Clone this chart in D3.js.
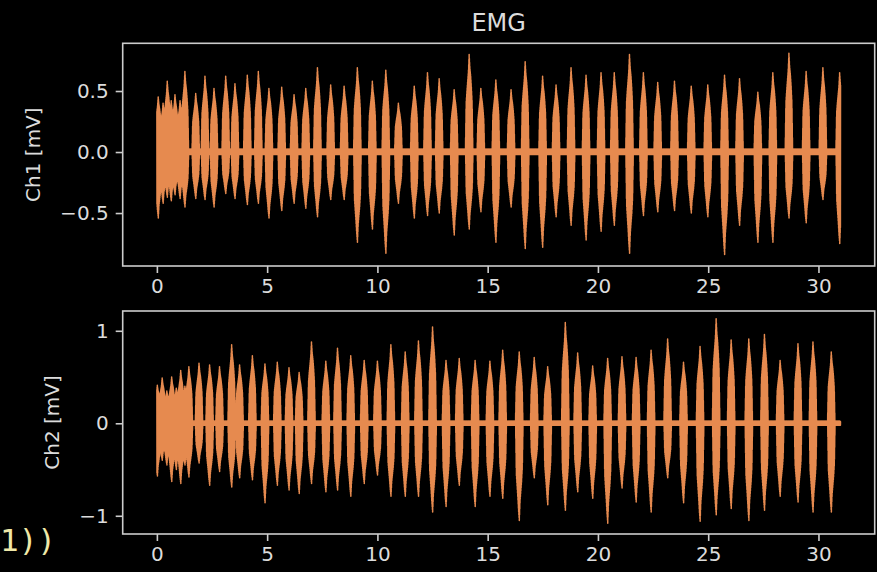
<!DOCTYPE html>
<html><head><meta charset="utf-8">
<script src="https://cdn.jsdelivr.net/npm/d3@7"></script>
<style>html,body{margin:0;padding:0;background:#000;overflow:hidden}svg{display:block}</style>
</head><body><svg id="c" width="877" height="572"></svg>
<script>
// ---------- data ----------
const title = "EMG";
const xTicks = [0, 5, 10, 15, 20, 25, 30];
const ch1Ticks = [-0.5, 0, 0.5];
const ch1TickLabels = ["\u22120.5", "0.0", "0.5"];
const ch2Ticks = [-1, 0, 1];
const ch2TickLabels = ["\u22121", "0", "1"];
const ch1Label = "Ch1 [mV]";
const ch2Label = "Ch2 [mV]";
const xLimits = [-1.55, 32.55];
const ch1Limits = [-0.934, 0.891];
const ch2Limits = [-1.197, 1.214];
const timeSpan = [0, 31.0];
const baselineNoise = 0.02; // mV, half-thickness of the resting band

// Ch1 bursts: centre time [s], positive peak [mV], negative peak [mV]
const ch1BurstTimes = [0.06,0.28,0.47,0.65,0.82,1.05,1.27,1.76,2.18,2.59,3.12,3.54,4.10,4.60,5.08,5.66,6.22,6.75,7.28,7.88,8.49,9.09,9.77,10.38,10.95,11.67,12.27,12.80,13.48,14.16,14.69,15.37,16.06,16.70,17.49,18.10,18.78,19.46,20.14,20.74,21.43,22.06,22.71,23.47,24.23,24.98,25.74,26.42,27.25,27.93,28.66,29.44,30.20,30.96];
const ch1BurstMax = [0.45,0.40,0.58,0.42,0.47,0.42,0.66,0.48,0.62,0.52,0.62,0.56,0.63,0.66,0.52,0.53,0.47,0.52,0.69,0.55,0.54,0.69,0.58,0.67,0.40,0.54,0.65,0.60,0.51,0.80,0.52,0.59,0.51,0.74,0.62,0.55,0.69,0.63,0.65,0.65,0.80,0.65,0.57,0.58,0.54,0.55,0.63,0.60,0.49,0.65,0.81,0.66,0.69,0.65];
const ch1BurstMin = [-0.54,-0.42,-0.37,-0.40,-0.35,-0.38,-0.45,-0.38,-0.39,-0.45,-0.34,-0.38,-0.43,-0.42,-0.54,-0.48,-0.42,-0.46,-0.53,-0.39,-0.39,-0.74,-0.63,-0.83,-0.42,-0.54,-0.52,-0.50,-0.68,-0.63,-0.49,-0.74,-0.45,-0.79,-0.78,-0.53,-0.60,-0.72,-0.65,-0.60,-0.83,-0.52,-0.49,-0.48,-0.50,-0.53,-0.84,-0.60,-0.74,-0.74,-0.54,-0.58,-0.39,-0.75];

// Ch2 bursts
const ch2BurstTimes = [0.02,0.24,0.45,0.67,0.88,1.08,1.27,1.45,1.91,2.39,2.84,3.39,3.75,4.33,4.90,5.46,5.99,6.45,7.01,7.66,8.19,8.79,9.40,10.00,10.61,11.26,11.86,12.50,13.11,13.71,14.43,15.10,15.68,16.43,17.11,17.72,18.52,19.08,19.76,20.44,21.09,21.73,22.41,23.16,23.88,24.63,25.36,26.04,26.84,27.55,28.26,29.07,29.75,30.58];
const ch2BurstMax = [0.41,0.49,0.35,0.50,0.38,0.57,0.40,0.61,0.65,0.63,0.61,0.85,0.63,0.73,0.64,0.66,0.60,0.55,0.88,0.67,0.81,0.73,0.68,0.67,0.85,0.77,0.89,1.04,0.68,0.70,0.68,0.67,0.79,0.77,0.71,0.61,1.09,0.76,0.62,0.70,0.72,0.71,0.79,0.91,0.66,0.83,1.13,0.90,0.91,0.96,0.68,0.86,0.88,0.77];
const ch2BurstMin = [-0.57,-0.40,-0.45,-0.63,-0.50,-0.65,-0.45,-0.58,-0.43,-0.67,-0.52,-0.69,-0.59,-0.61,-0.86,-0.67,-0.72,-0.76,-0.65,-0.74,-0.72,-0.79,-0.65,-0.56,-0.79,-0.79,-0.79,-0.96,-0.90,-0.67,-0.90,-0.79,-0.81,-1.05,-0.59,-0.88,-0.94,-0.74,-0.81,-1.08,-0.70,-0.85,-0.96,-0.59,-0.86,-1.06,-0.99,-0.92,-1.05,-0.94,-0.79,-0.85,-0.96,-0.96];

// ---------- rendering style ----------
const W = 877, H = 572;
const panelLeft = 122.7, panelRight = 874.7;
const panels = [
  {top: 43.3, bottom: 266, limits: ch1Limits, ticks: ch1Ticks, labels: ch1TickLabels, name: ch1Label, labelX: 33,
   times: ch1BurstTimes, maxs: ch1BurstMax, mins: ch1BurstMin},
  {top: 311, bottom: 534, limits: ch2Limits, ticks: ch2Ticks, labels: ch2TickLabels, name: ch2Label, labelX: 52,
   times: ch2BurstTimes, maxs: ch2BurstMax, mins: ch2BurstMin}
];
const lineColor = "#e68a4f";
const textColor = "#dcdcdc";
const spineColor = "#cccccc";
const font = "'DejaVu Sans', sans-serif";
const halfWidth = 0.17;                       // burst half-duration used to draw each spindle
const profP = [0, 0.5, 0.62, 0.72, 0.82, 1.0, 0.86, 0.78, 0.66, 0.5, 0];
const profN = [0, 0.52, 0.64, 0.76, 0.9, 1.0, 0.8, 0.7, 0.6, 0.46, 0];

function shape(prof, u) {
  const f = (u + 1) / 2 * (prof.length - 1);
  const i = Math.floor(f), r = f - i;
  if (i >= prof.length - 1) return prof[prof.length - 1];
  return prof[i] * (1 - r) + prof[i + 1] * r;
}

// envelope trace: alternates between the upper and lower envelope of the bursts
function trace(times, maxs, mins) {
  const pts = [];
  const dt = 0.01;
  const n = Math.round((timeSpan[1] - timeSpan[0]) / dt);
  for (let i = 0; i <= n; i++) {
    const t = timeSpan[0] + i * dt;
    let ep = baselineNoise, en = baselineNoise;
    for (let b = 0; b < times.length; b++) {
      const u = (t - times[b]) / halfWidth;
      if (u <= -1 || u >= 1) continue;
      ep = Math.max(ep, maxs[b] * shape(profP, u));
      en = Math.max(en, -mins[b] * shape(profN, u));
    }
    pts.push([t, ep]);
    if (i < n) pts.push([t + dt / 2, -en]);
  }
  return pts;
}

const svg = d3.select("#c");
svg.append("rect").attr("width", W).attr("height", H).attr("fill", "#000");

const x = d3.scaleLinear().domain(xLimits).range([panelLeft, panelRight]);

panels.forEach((p, k) => {
  const y = d3.scaleLinear().domain(p.limits).range([p.bottom, p.top]);
  const g = svg.append("g");
  const clipId = "clip" + k;
  svg.append("clipPath").attr("id", clipId).append("rect")
    .attr("x", panelLeft).attr("y", p.top)
    .attr("width", panelRight - panelLeft).attr("height", p.bottom - p.top);

  const line = d3.line().x(d => x(d[0])).y(d => y(d[1]));
  g.append("path")
    .attr("clip-path", `url(#${clipId})`)
    .attr("d", line(trace(p.times, p.maxs, p.mins)))
    .attr("fill", "none").attr("stroke", lineColor)
    .attr("stroke-width", 1.5).attr("stroke-linejoin", "round");

  // frame
  g.append("rect").attr("x", panelLeft).attr("y", p.top)
    .attr("width", panelRight - panelLeft).attr("height", p.bottom - p.top)
    .attr("fill", "none").attr("stroke", spineColor).attr("stroke-width", 1.6);

  // x axis
  const xa = g.append("g").attr("transform", `translate(0,${p.bottom})`)
    .call(d3.axisBottom(x).tickValues(xTicks).tickSize(7).tickPadding(6).tickFormat(d3.format("d")));
  // y axis
  const ya = g.append("g").attr("transform", `translate(${panelLeft},0)`)
    .call(d3.axisLeft(y).tickValues(p.ticks).tickSize(7).tickPadding(7)
      .tickFormat((d, i) => p.labels[i]));
  [xa, ya].forEach(a => {
    a.select(".domain").remove();
    a.selectAll(".tick line").attr("stroke", spineColor).attr("stroke-width", 1.6);
    a.selectAll(".tick text").attr("fill", textColor)
      .style("font-family", font).style("font-size", "20px");
  });

  // y label
  g.append("text")
    .attr("transform", `translate(${p.labelX},${(p.top + p.bottom) / 2}) rotate(-90)`)
    .attr("text-anchor", "middle").attr("dy", "0.35em")
    .attr("fill", textColor).style("font-family", font).style("font-size", "20px")
    .text(p.name);
});

// title
svg.append("text")
  .attr("x", (panelLeft + panelRight) / 2).attr("y", 31)
  .attr("text-anchor", "middle").attr("fill", textColor)
  .style("font-family", font).style("font-size", "24px")
  .text(title);

// notebook code text visible at lower left
svg.append("text")
  .attr("x", 0).attr("y", 551)
  .attr("fill", "#efe8a8")
  .style("font-family", "'DejaVu Sans Mono', monospace").style("font-size", "31px")
  .text("1))");
</script>
</body></html>
